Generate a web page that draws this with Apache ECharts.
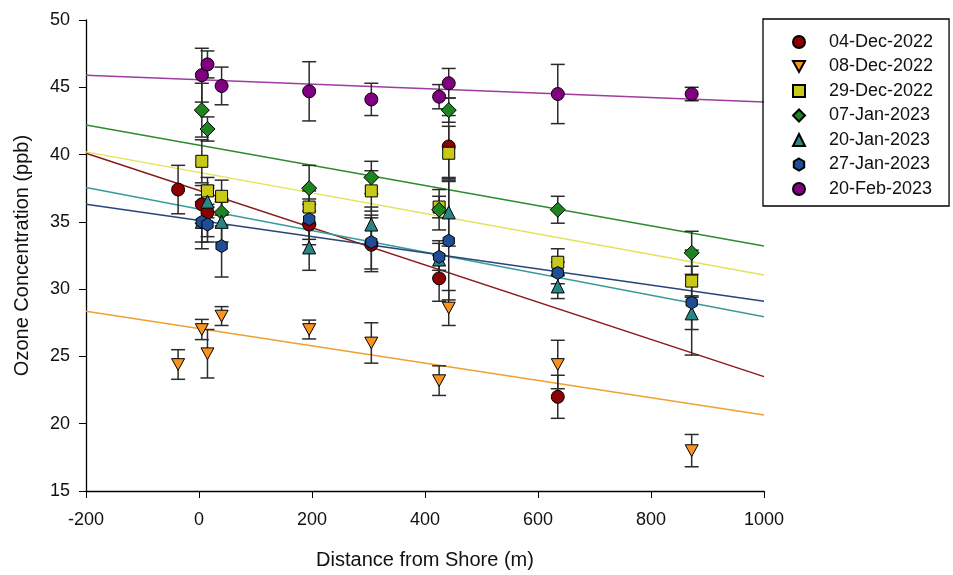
<!DOCTYPE html>
<html>
<head>
<meta charset="utf-8">
<script src="https://cdn.jsdelivr.net/npm/echarts@6/dist/echarts.min.js"></script>
<style>
  html, body { margin: 0; padding: 0; background: #fff; }
  #chart { width: 953px; height: 575px; }
</style>
</head>
<body>
<div id="chart"></div>
<script>
// distance from shore (m) of each site
var dist = [-37, 5, 15, 40, 195, 305, 425, 442, 635, 872];

// ozone (ppb) per sampling date, null = no point
var dec04 = [37.4, 36.3, 35.7, null, 34.8, 33.3, 30.8, 40.6, 22.0, null];
var dec08 = [24.4, 27.0, 25.2, 28.0, 27.0, 26.0, 23.2, 28.6, 24.4, 18.0];
var dec29 = [null, 39.5, 37.3, 36.9, 36.1, 37.3, 36.1, 40.1, 32.0, 30.6];
var jan07 = [null, 43.3, 41.9, 35.7, 37.5, 38.3, 35.9, 43.3, 35.9, 32.7];
var jan20 = [null, 35.0, 36.5, 35.0, 33.1, 34.8, 32.2, 35.7, 30.2, 28.2];
var jan27 = [null, 35.0, 34.8, 33.2, 35.2, 33.5, 32.4, 33.6, 31.2, 29.0];
var feb20 = [null, 45.9, 46.7, 45.1, 44.7, 44.1, 44.3, 45.3, 44.5, 44.5];

// error (+/- ppb)
var dec04Err = [1.8, 1.4, 1.8, null, 1.5, 2.0, 1.7, 2.3, 1.6, null];
var dec08Err = [1.1, 0.75, 1.8, 0.7, 0.7, 1.5, 1.1, 1.3, 1.8, 1.2];
var dec29Err = [null, 1.6, 1.0, 1.2, 1.2, 1.5, 0.8, 2.0, 1.0, 1.1];
var jan07Err = [null, 2.0, 0.9, 1.0, 1.7, 1.2, 1.5, 0.9, 1.0, 1.6];
var jan20Err = [null, 1.5, 1.2, 1.5, 1.7, 1.3, 1.4, 2.5, 0.9, 1.2];
var jan27Err = [null, 2.0, 1.3, 2.3, 1.5, 2.0, 1.0, 4.4, 0.8, 3.9];
var feb20Err = [null, 2.0, 1.0, 1.4, 2.2, 1.2, 0.9, 1.1, 2.2, 0.5];

// fitted line ends, at x = -200 and x = 1000
var trendX = [-200, 1000];
var dec04Fit = [40.1, 23.5];
var dec08Fit = [28.35, 20.65];
var dec29Fit = [40.2, 31.05];
var jan07Fit = [42.2, 33.2];
var jan20Fit = [37.55, 27.95];
var jan27Fit = [36.3, 29.1];
var feb20Fit = [45.9, 43.9];

var names = ['04-Dec-2022', '08-Dec-2022', '29-Dec-2022', '07-Jan-2023', '20-Jan-2023', '27-Jan-2023', '20-Feb-2023'];
var values = [dec04, dec08, dec29, jan07, jan20, jan27, feb20];
var errors = [dec04Err, dec08Err, dec29Err, jan07Err, jan20Err, jan27Err, feb20Err];
var fits = [dec04Fit, dec08Fit, dec29Fit, jan07Fit, jan20Fit, jan27Fit, feb20Fit];

var fills = ['#8B0000', '#F7931E', '#C9C91A', '#1E8420', '#2A8585', '#1F4E96', '#800080'];
var lineColors = ['#8B1A1A', '#F0A030', '#E3E35A', '#2E8B2E', '#3A9A9A', '#27457A', '#A03CA0'];
var symbols = [
  'circle',
  'path://M0,0 L10,0 L5,9 Z',
  'rect',
  'diamond',
  'triangle',
  'path://M5,0 L9.33,2.5 L9.33,7.5 L5,10 L0.67,7.5 L0.67,2.5 Z',
  'circle'
];
var sizes = [13, 13, 12, 15, 13, 13, 13];

var font = 'Liberation Sans, Arial, sans-serif';

function errorBar(params, api) {
  var x = api.value(0);
  var top = api.coord([x, api.value(2)]);
  var bot = api.coord([x, api.value(1)]);
  var hw = 7;
  var st = { stroke: '#2b2b2b', lineWidth: 1.5 };
  return {
    type: 'group',
    children: [
      { type: 'line', shape: { x1: top[0], y1: top[1], x2: bot[0], y2: bot[1] }, style: st },
      { type: 'line', shape: { x1: top[0] - hw, y1: top[1], x2: top[0] + hw, y2: top[1] }, style: st },
      { type: 'line', shape: { x1: bot[0] - hw, y1: bot[1], x2: bot[0] + hw, y2: bot[1] }, style: st }
    ]
  };
}

var series = [];
for (var i = 0; i < names.length; i++) {
  var pts = [], bars = [];
  for (var j = 0; j < dist.length; j++) {
    if (values[i][j] == null) continue;
    pts.push([dist[j], values[i][j]]);
    bars.push([dist[j], values[i][j] - errors[i][j], values[i][j] + errors[i][j]]);
  }
  series.push({
    name: names[i] + ' fit',
    type: 'line',
    data: [[trendX[0], fits[i][0]], [trendX[1], fits[i][1]]],
    symbol: 'none',
    silent: true,
    lineStyle: { color: lineColors[i], width: 1.5 },
    z: 2
  });
  series.push({
    name: names[i] + ' err',
    type: 'custom',
    data: bars,
    encode: { x: 0, y: [1, 2] },
    renderItem: errorBar,
    silent: true,
    z: 3
  });
  series.push({
    name: names[i],
    type: 'scatter',
    data: pts,
    symbol: symbols[i],
    symbolSize: sizes[i],
    symbolKeepAspect: true,
    itemStyle: { color: fills[i], borderColor: '#000', borderWidth: 1, opacity: 1 },
    z: 4
  });
}

var chart = echarts.init(document.getElementById('chart'));
chart.setOption({
  animation: false,
  backgroundColor: '#fff',
  grid: { left: 86, right: 189, top: 20, bottom: 83 },
  legend: {
    data: names,
    orient: 'vertical',
    left: 763,
    top: 19,
    itemWidth: 12,
    itemHeight: 12,
    itemGap: 6.5,
    padding: [14, 16, 8, 29],
    borderColor: '#000',
    borderWidth: 1.3,
    textStyle: { fontSize: 18, fontFamily: font, color: '#111', padding: [0, 0, 0, 19] }
  },
  xAxis: {
    type: 'value',
    min: -200,
    max: 1000,
    interval: 200,
    name: 'Distance from Shore (m)',
    nameLocation: 'middle',
    nameGap: 59,
    nameTextStyle: { fontSize: 20, fontFamily: font, color: '#111' },
    axisLine: { show: true, onZero: false, lineStyle: { color: '#000', width: 1.3 } },
    axisTick: { show: true, inside: false, length: 7, lineStyle: { color: '#000' } },
    axisLabel: { fontSize: 18, fontFamily: font, color: '#111', margin: 20, formatter: function (v) { return String(v); } },
    splitLine: { show: false }
  },
  yAxis: {
    type: 'value',
    min: 15,
    max: 50,
    interval: 5,
    name: 'Ozone Concentration (ppb)',
    nameLocation: 'middle',
    nameGap: 54,
    nameTextStyle: { fontSize: 20, fontFamily: font, color: '#111' },
    axisLine: { show: true, onZero: false, lineStyle: { color: '#000', width: 1.3 } },
    axisTick: { show: true, inside: false, length: 7, lineStyle: { color: '#000' } },
    axisLabel: { fontSize: 18, fontFamily: font, color: '#111', margin: 16 },
    splitLine: { show: false }
  },
  series: series
});
</script>
</body>
</html>
